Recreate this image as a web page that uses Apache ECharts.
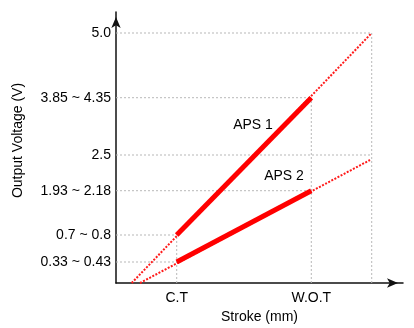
<!DOCTYPE html>
<html>
<head>
<meta charset="utf-8">
<script src="https://cdn.jsdelivr.net/npm/echarts@6/dist/echarts.min.js"></script>
<style>html,body{margin:0;padding:0;background:#fff}#c{width:414px;height:328px}</style>
</head>
<body>
<div id="c"></div>
<script>
// Schematic axis positions (the original figure is not to scale)
var yLevels = [0.42, 0.96, 1.846, 2.56, 3.706, 5.0];
var yLabels = ['0.33 ~ 0.43', '0.7 ~ 0.8', '1.93 ~ 2.18', '2.5', '3.85 ~ 4.35', '5.0'];
var xPositions = [3.035, 9.765];
var xLabels = ['C.T', 'W.O.T'];
var xRightEdge = 12.785;
// Sensor lines: solid operating range (C.T -> W.O.T) and dotted extension
var aps1Solid = [[3.035, 0.96], [9.765, 3.706]];
var aps1Dotted = [[0.785, 0], [12.785, 5.0]];
var aps2Solid = [[3.035, 0.42], [9.765, 1.846]];
var aps2Dotted = [[1.2, 0], [12.7, 2.46]];
var seriesNames = ['APS 1', 'APS 2'];
var nameAnchors = [[6.85, 3.16], [8.4, 2.14]];
// horizontal grid segments end x, vertical grid segments top y
var hGridEnds = [xPositions[0], xPositions[0], xPositions[1], xRightEdge, xPositions[1], xRightEdge];
var vGridX = [xPositions[0], xPositions[1], xRightEdge];
var vGridTops = [yLevels[1], yLevels[4], yLevels[5]];

var gridStyle = {color: '#b8b8b8', width: 1, type: [2, 2]};
var series = [];
yLevels.forEach(function (y, i) {
  series.push({type: 'line', data: [[0, y], [hGridEnds[i], y]], symbol: 'none', silent: true,
    lineStyle: gridStyle, z: 1});
});
vGridX.forEach(function (x, i) {
  series.push({type: 'line', data: [[x, 0], [x, vGridTops[i]]], symbol: 'none', silent: true,
    lineStyle: gridStyle, z: 1});
});
[aps1Dotted, aps2Dotted].forEach(function (d) {
  series.push({type: 'line', data: d, symbol: 'none', lineStyle: {color: '#ff1a1a', width: 2, type: [2, 1.5]}, z: 3});
});
[aps1Solid, aps2Solid].forEach(function (d) {
  series.push({type: 'line', data: d, symbol: 'none', lineStyle: {color: '#ff0000', width: 5, cap: 'butt'}, z: 4});
});
series.push({type: 'scatter', symbolSize: 0, silent: true, data: nameAnchors.map(function (p, i) {
  return {value: p, name: seriesNames[i]};
}), label: {show: true, position: 'inside', formatter: '{b}', color: '#000', opacity: 1, fontSize: 14,
  fontFamily: 'Liberation Sans'}, z: 5});

var chart = echarts.init(document.getElementById('c'));
chart.setOption({
  animation: false,
  textStyle: {fontFamily: 'Liberation Sans'},
  grid: {left: 116, right: 11, top: 12, bottom: 45, outerBoundsMode: 'none'},
  xAxis: {
    type: 'value', min: 0, max: 14.35,
    name: 'Stroke (mm)', nameLocation: 'middle', nameGap: 21,
    nameTextStyle: {fontSize: 14, color: '#000'},
    axisLine: {lineStyle: {color: '#111', width: 1.5}, symbol: ['none', 'arrow'], symbolSize: [7, 11], symbolOffset: [0, -5]},
    axisTick: {show: false},
    splitLine: {show: false},
    axisLabel: {customValues: xPositions, fontSize: 14, color: '#000', margin: 8,
      formatter: function (v) { var i = xPositions.indexOf(v); return i >= 0 ? xLabels[i] : ''; }}
  },
  yAxis: {
    type: 'value', min: 0, max: 5.42,
    name: 'Output Voltage (V)', nameLocation: 'middle', nameGap: 91,
    nameTextStyle: {fontSize: 14, color: '#000', padding: [0, 0, 0, 14]},
    axisLine: {lineStyle: {color: '#111', width: 1.5}, symbol: ['none', 'arrow'], symbolSize: [7, 11], symbolOffset: [0, -5]},
    axisTick: {show: false},
    splitLine: {show: false},
    axisLabel: {customValues: yLevels, fontSize: 14, color: '#000', margin: 5,
      formatter: function (v) { var i = yLevels.indexOf(v); return i >= 0 ? yLabels[i] : ''; }}
  },
  series: series
});
</script>
</body>
</html>
